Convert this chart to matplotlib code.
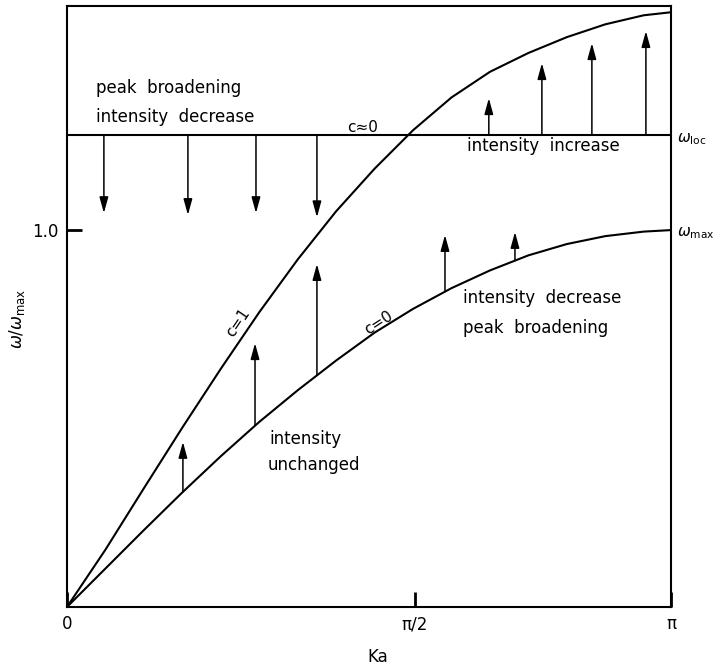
import numpy as np
import matplotlib
matplotlib.use("Agg")
import matplotlib.pyplot as plt

# Curves (x in Ka, y in omega/omega_max)
ka_c0 = [0.0, 0.2, 0.4, 0.6, 0.8, 1.0, 1.2, 1.4, 1.6, 1.8, 2.0, 2.2, 2.4, 2.6, 2.8, 3.0, np.pi]
w_c0 = [0.0, 0.102, 0.204, 0.304, 0.400, 0.491, 0.575, 0.654, 0.728, 0.791,
        0.846, 0.893, 0.933, 0.963, 0.984, 0.996, 1.0]

ka_c1 = [0.0, 0.2, 0.4, 0.6, 0.8, 1.0, 1.2, 1.4, 1.6, 1.8, 2.0, 2.2, 2.4, 2.6, 2.8, 3.0, np.pi]
w_c1 = [0.0, 0.152, 0.315, 0.476, 0.632, 0.782, 0.922, 1.050, 1.163, 1.265,
        1.352, 1.420, 1.470, 1.512, 1.546, 1.570, 1.578]

w_loc = 1.252
w_max = 1.0

# arrows pointing down from the local mode line
down_x = [0.192, 0.629, 0.983, 1.300]
down_end = [1.045, 1.040, 1.045, 1.034]

# arrows pointing up from the local mode line
up_loc_x = [2.194, 2.470, 2.730, 3.011]
up_loc_end = [1.350, 1.443, 1.496, 1.528]

# arrows pointing up from the c=0 curve
up_c0_x = [0.603, 0.978, 1.300, 1.966, 2.330]
up_c0_start = [0.305, 0.483, 0.615, 0.837, 0.919]
up_c0_end = [0.438, 0.700, 0.910, 0.987, 0.995]

xtick_pos = [0.0, 1.81, np.pi]
xtick_labels = ["0", "π/2", "π"]

fig = plt.figure(figsize=(7.14, 6.69), dpi=100)
ax = fig.add_axes([0.0938, 0.0927, 0.846, 0.898])

ax.plot(ka_c0, w_c0, color="black", lw=1.5)
ax.plot(ka_c1, w_c1, color="black", lw=1.5)
ax.axhline(w_loc, color="black", lw=1.5)

arrow = dict(arrowstyle="-|>,head_length=0.8,head_width=0.22", color="black",
             lw=1.1, shrinkA=0, shrinkB=0, mutation_scale=12)
for x, y in zip(down_x, down_end):
    ax.annotate("", xy=(x, y), xytext=(x, w_loc), arrowprops=arrow)
for x, y in zip(up_loc_x, up_loc_end):
    ax.annotate("", xy=(x, y), xytext=(x, w_loc), arrowprops=arrow)
for x, y0, y1 in zip(up_c0_x, up_c0_start, up_c0_end):
    ax.annotate("", xy=(x, y1), xytext=(x, y0), arrowprops=arrow)

ax.set_xlim(0, np.pi)
ax.set_ylim(0, 1.594)
ax.set_xticks(xtick_pos)
ax.set_xticklabels(xtick_labels, fontsize=12)
ax.set_yticks([1.0])
ax.set_yticklabels(["1.0"], fontsize=12)
ax.tick_params(direction="in", length=11, width=2, pad=6)
for s in ax.spines.values():
    s.set_linewidth(1.5)

ax.set_xlabel("Ka", fontsize=12)
ax.xaxis.set_label_coords(0.515, -0.068)
ax.set_ylabel(r"$\omega/\omega_{\rm max}$", fontsize=12)
ax.yaxis.set_label_coords(-0.066, 0.48)

# right-hand labels
ax.annotate(r"$\omega_{\rm loc}$", xy=(np.pi, w_loc), xytext=(4, -3),
            textcoords="offset points", va="center", fontsize=11, annotation_clip=False)
ax.annotate(r"$\omega_{\rm max}$", xy=(np.pi, w_max), xytext=(4, -2),
            textcoords="offset points", va="center", fontsize=11, annotation_clip=False)

fs = 12
ax.text(0.152, 1.377, "peak  broadening", fontsize=fs, va="center")
ax.text(0.152, 1.301, "intensity  decrease", fontsize=fs, va="center")
ax.text(1.455, 1.272, "c≈0", fontsize=11, va="center")
ax.text(2.08, 1.222, "intensity  increase", fontsize=fs, va="center")
ax.text(2.06, 0.820, "intensity  decrease", fontsize=fs, va="center")
ax.text(2.06, 0.740, "peak  broadening", fontsize=fs, va="center")
ax.text(1.055, 0.445, "intensity", fontsize=fs, va="center")
ax.text(1.045, 0.378, "unchanged", fontsize=fs, va="center")
ax.text(0.89, 0.755, "c=1", fontsize=11, rotation=56, ha="center", va="center")
ax.text(1.62, 0.755, "c=0", fontsize=11, rotation=33, ha="center", va="center")

fig.savefig("out.png", dpi=100)
